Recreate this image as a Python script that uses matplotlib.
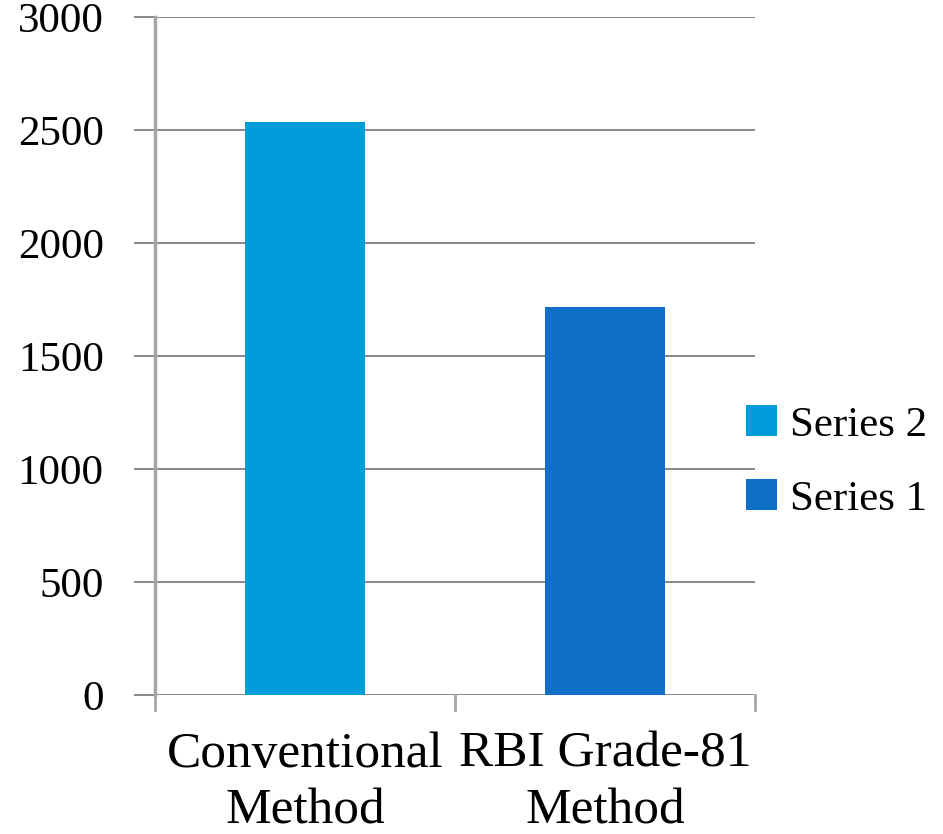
import matplotlib.pyplot as plt
import numpy as np

categories = ["Conventional\nMethod", "RBI Grade-81\nMethod"]
series1 = [0, 1717]
series2 = [2535, 0]
yticks = [0, 500, 1000, 1500, 2000, 2500, 3000]

c_series1 = "#106FC6"
c_series2 = "#009DDA"
grid_c = "#7f7f7f"
axis_c = "#a6a6a6"

plt.rcParams["font.family"] = ["Liberation Serif", "DejaVu Serif"]

fig = plt.figure(figsize=(9.43, 8.34), dpi=100)
ax = fig.add_axes([0.1644, 0.1667, 0.8006 - 0.1644, 0.9796 - 0.1667])

x = np.arange(len(categories))
b1 = ax.bar(x, series1, width=0.4, color=c_series1, label="Series 1", zorder=3)
b2 = ax.bar(x, series2, width=0.4, bottom=series1, color=c_series2,
            label="Series 2", zorder=3)

ax.set_xlim(-0.5, 1.5)
ax.set_ylim(0, 3000)
ax.set_yticks(yticks)
ax.set_yticklabels([str(v) for v in yticks], fontsize=31)
ax.set_xticks(x)
ax.set_xticklabels(categories, fontsize=37, linespacing=1.3)
ax.tick_params(axis="x", length=0, pad=26)
ax.tick_params(axis="y", length=15, width=1.3, color=grid_c, pad=22)

# category separators below the axis
for xb in [-0.5, 0.5, 1.5]:
    ax.plot([xb, xb], [0, -0.022], transform=ax.get_xaxis_transform(),
            color=axis_c, lw=2, clip_on=False)

ax.grid(axis="y", color=grid_c, lw=1.3, zorder=0)
for s in ["top", "right", "bottom"]:
    ax.spines[s].set_visible(False)
ax.spines["left"].set_color(axis_c)
ax.spines["left"].set_linewidth(2.5)
ax.spines["left"].set_zorder(4)

fig.legend(handles=[b2, b1], labels=["Series 2", "Series 1"],
           loc="center left", bbox_to_anchor=(0.791, 0.446),
           frameon=False, fontsize=31, handlelength=0.72, handleheight=0.72,
           handletextpad=0.3, labelspacing=0.8, borderaxespad=0,
           borderpad=0)

fig.savefig("out.png", dpi=100, facecolor="white")
